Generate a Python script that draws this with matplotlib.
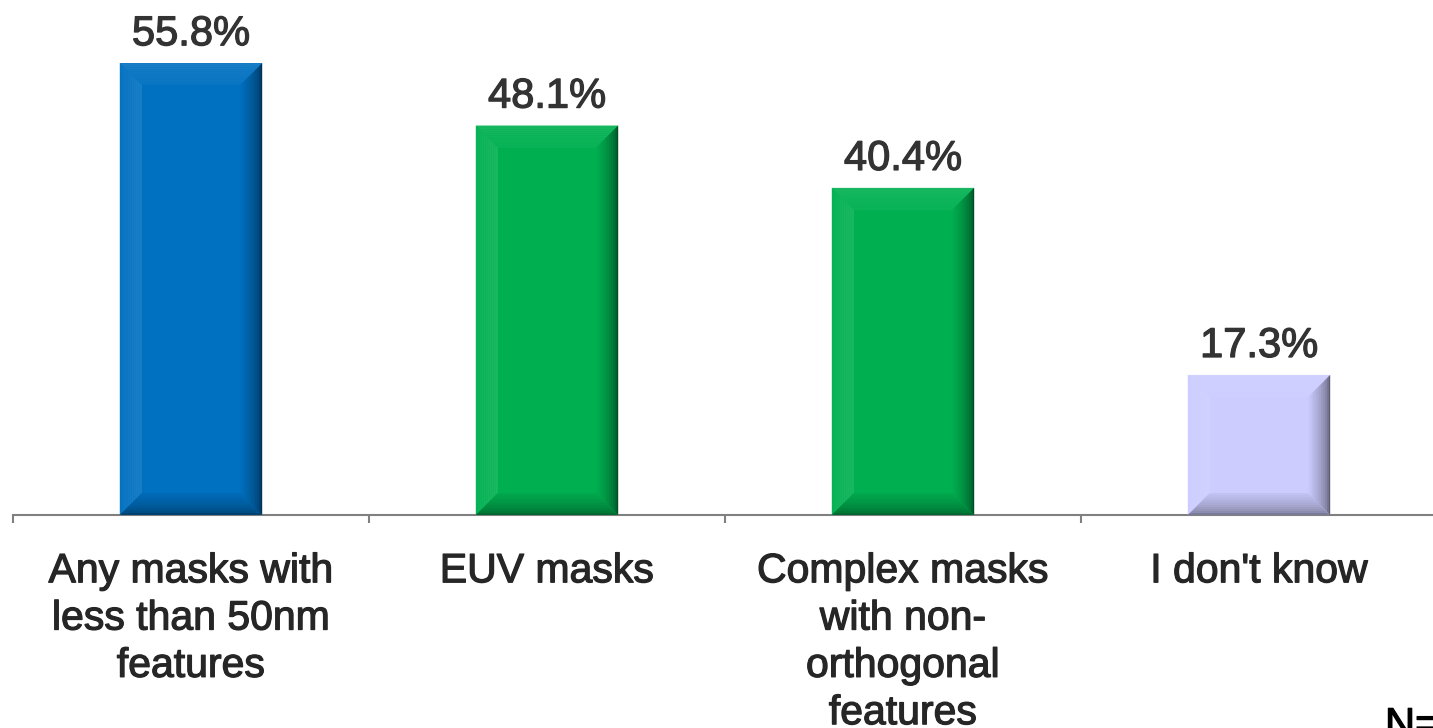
import matplotlib.pyplot as plt
import matplotlib.colors as mcolors
import matplotlib.patheffects as pe
from matplotlib.patches import Polygon
import numpy as np

# survey results
categories = ['Any masks with\nless than 50nm\nfeatures', 'EUV masks',
              'Complex masks\nwith non-\northogonal\nfeatures', "I don't know"]
values = [55.8, 48.1, 40.4, 17.3]
colors = ['#0070C0', '#00B050', '#00B050', '#CCCCFF']

plt.rcParams['font.family'] = ['Liberation Sans', 'DejaVu Sans']

W, H, DPI = 1433, 728, 100
fig = plt.figure(figsize=(W / DPI, H / DPI), dpi=DPI)
# axis spans a little past the right edge of the figure
ax = fig.add_axes([13 / W, 213 / H, 1424 / W, 515 / H])

x = np.arange(len(values))
ymax = 63.6
ax.set_xlim(-0.5, len(values) - 0.5)
ax.set_ylim(0, ymax)

bar_w = 0.4
ax.bar(x, values, width=bar_w, color=colors, linewidth=0, zorder=2)


def shade(c, f):
    r, g, b = mcolors.to_rgb(c)
    if f > 0:
        return (r + (1 - r) * f, g + (1 - g) * f, b + (1 - b) * f)
    return (r * (1 + f), g * (1 + f), b * (1 + f))


# soft bevel bands around each bar, sized in pixels
px_x = 1424 / len(values)
px_y = 515 / ymax
bev = 22
n = 11
# (outer shade, inner shade) per side
side_shades = {'top': (0.10, 0.04), 'left': (0.02, 0.10),
               'right': (-0.55, -0.02), 'bottom': (-0.40, -0.05)}
for xi, v, c in zip(x, values, colors):
    l, r = xi - bar_w / 2, xi + bar_w / 2
    b, t = 0, v
    for k in range(n):
        d0, d1 = bev * k / n, bev * (k + 1) / n
        x0, x1 = d0 / px_x, d1 / px_x
        y0, y1 = d0 / px_y, d1 / px_y
        sides = {
            'top': [(l + x0, t - y0), (r - x0, t - y0), (r - x1, t - y1), (l + x1, t - y1)],
            'left': [(l + x0, b + y0), (l + x0, t - y0), (l + x1, t - y1), (l + x1, b + y1)],
            'right': [(r - x0, b + y0), (r - x0, t - y0), (r - x1, t - y1), (r - x1, b + y1)],
            'bottom': [(l + x0, b + y0), (r - x0, b + y0), (r - x1, b + y1), (l + x1, b + y1)],
        }
        frac = (k / (n - 1)) ** 0.6
        for side, pts in sides.items():
            fo, fi = side_shades[side]
            ax.add_patch(Polygon(pts, closed=True, facecolor=shade(c, fo + (fi - fo) * frac),
                                 edgecolor='none', zorder=3))
    ax.text(xi, v + 1.1, f'{v:.1f}%', ha='center', va='bottom',
            fontsize=30, color='#333333',
            path_effects=[pe.withStroke(linewidth=0.9, foreground='#333333')])

for s in ['top', 'right', 'left']:
    ax.spines[s].set_visible(False)
ax.spines['bottom'].set_color('#808080')
ax.spines['bottom'].set_linewidth(1.5)
ax.set_yticks([])

ax.set_xticks(np.arange(len(values) + 1) - 0.5)
ax.set_xticklabels([])
ax.tick_params(axis='x', length=6, width=1.5, color='#808080', direction='out')

for xi, lab in zip(x, categories):
    ax.text(xi, -4.6, lab, ha='center', va='top', fontsize=29.5,
            color='#262626', linespacing=1.31,
            path_effects=[pe.withStroke(linewidth=0.9, foreground='#262626')])

fig.text(1385 / W, 1 - 706 / H, 'N=52', ha='left', va='top',
         fontsize=30, color='black',
         path_effects=[pe.withStroke(linewidth=0.9, foreground='black')])

fig.savefig('out.png', dpi=DPI)
